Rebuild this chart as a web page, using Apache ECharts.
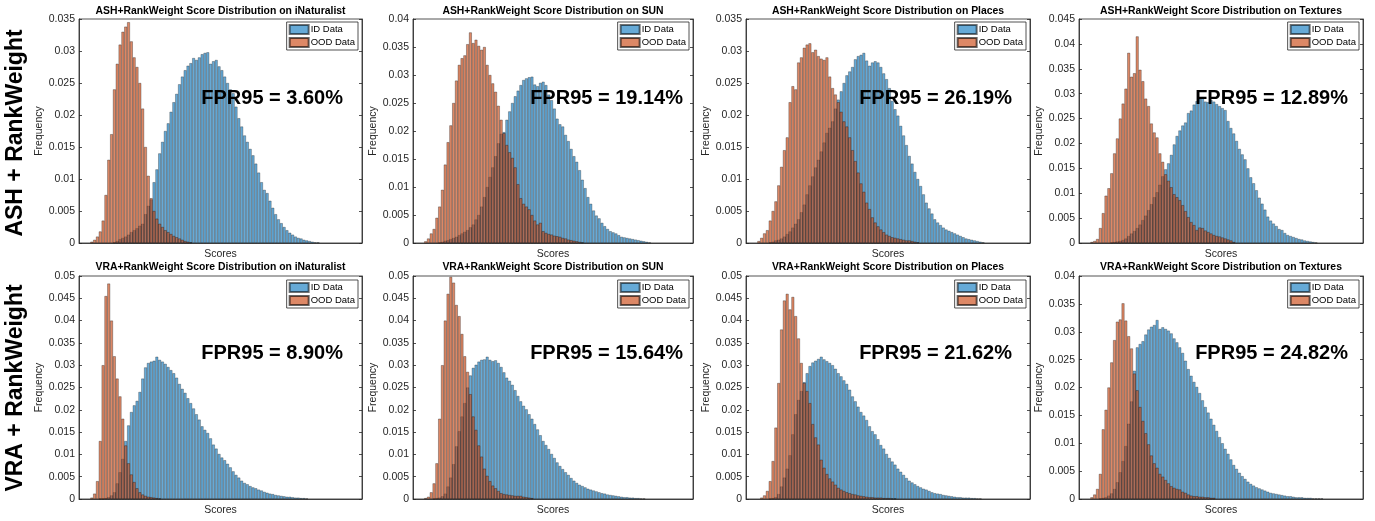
<!DOCTYPE html>
<html>
<head>
<meta charset="utf-8">
<script src="https://cdn.jsdelivr.net/npm/echarts@6/dist/echarts.min.js"></script>
<style>
html,body{margin:0;padding:0;background:#fff;}
#chart{width:1375px;height:521px;}
</style>
</head>
<body>
<div id="chart"></div>
<script>
// ---------------- DATA ----------------
const BIN_COUNT = 100;
const datasetNames = ['iNaturalist', 'SUN', 'Places', 'Textures'];
const methodNames = ['ASH', 'VRA'];
const rowLabels = ['ASH + RankWeight', 'VRA + RankWeight'];
const fprLabels = ['FPR95 = 3.60%', 'FPR95 = 19.14%', 'FPR95 = 26.19%', 'FPR95 = 12.89%',
                   'FPR95 = 8.90%', 'FPR95 = 15.64%', 'FPR95 = 21.62%', 'FPR95 = 24.82%'];
const yMaxes = [0.035, 0.04, 0.035, 0.045, 0.05, 0.05, 0.05, 0.04];
const seriesNames = ['ID Data', 'OOD Data'];

// ASH + RankWeight, iNaturalist
const ashInatIdStart = 12;
const ashInatId = [0.0001,0.0003,0.0006,0.0008,0.001,0.0013,0.0017,0.002,0.0023,0.0027,0.003,0.0045,0.0058,0.0068,
  0.0095,0.0115,0.014,0.0158,0.0175,0.0187,0.0205,0.022,0.0233,0.0248,0.026,0.027,0.0277,0.0281,0.0289,0.0286,0.029,
  0.0295,0.0297,0.0298,0.028,0.0284,0.0286,0.0276,0.027,0.026,0.025,0.024,0.0234,0.0213,0.0195,0.0182,0.0168,0.0158,
  0.0147,0.0137,0.0124,0.011,0.0095,0.0083,0.0078,0.0066,0.0055,0.0045,0.0037,0.0031,0.0025,0.002,0.0016,0.0013,0.001,
  0.0008,0.0007,0.0005,0.0004,0.0003,0.0002,0.0001,0.0001];
const ashInatOodStart = 4;
const ashInatOod = [0.0002,0.0005,0.001,0.0018,0.0035,0.0075,0.013,0.017,0.024,0.028,0.031,0.033,0.0338,0.0345,0.0315,
  0.029,0.0275,0.025,0.021,0.015,0.0105,0.007,0.005,0.0038,0.003,0.0025,0.002,0.0017,0.0014,0.0011,0.0009,0.0007,0.0005,
  0.0003,0.0002,0.0001];

// ASH + RankWeight, SUN
const ashSunIdStart = 9;
const ashSunId = [0.0001,0.0002,0.0004,0.0005,0.0007,0.0009,0.0011,0.0014,0.0017,0.002,0.0023,0.0028,0.0033,0.0042,0.005,
  0.0065,0.0082,0.01,0.0118,0.0135,0.0155,0.0178,0.0195,0.0198,0.022,0.0235,0.025,0.0262,0.0272,0.0282,0.0291,0.0294,
  0.0296,0.0297,0.0283,0.028,0.0286,0.0288,0.0282,0.0265,0.0255,0.024,0.0222,0.0212,0.0208,0.0193,0.0182,0.0168,0.0155,
  0.0145,0.013,0.0113,0.0098,0.0082,0.007,0.0058,0.0049,0.0044,0.0036,0.003,0.0025,0.0021,0.0019,0.0017,0.0014,0.0011,
  0.001,0.0009,0.0008,0.0007,0.0006,0.0005,0.0004,0.0003,0.0002,0.0001];
const ashSunOodStart = 4;
const ashSunOod = [0.0003,0.0008,0.0017,0.0025,0.0045,0.0065,0.0095,0.014,0.018,0.021,0.025,0.029,0.0318,0.033,0.0335,
  0.0355,0.0376,0.0357,0.0363,0.0352,0.0345,0.035,0.0318,0.03,0.0285,0.027,0.0245,0.022,0.0196,0.0175,0.0162,0.0152,
  0.0135,0.0105,0.008,0.007,0.0065,0.006,0.005,0.004,0.0033,0.0036,0.0021,0.0018,0.0016,0.0015,0.0013,0.0012,0.0011,
  0.0009,0.0008,0.0006,0.0005,0.0004,0.0003,0.0002,0.0001];

// ASH + RankWeight, Places
const ashPlacesIdStart = 8;
const ashPlacesId = [0.0001,0.0002,0.0004,0.0005,0.0007,0.001,0.0014,0.0018,0.0024,0.003,0.0037,0.0048,0.006,0.0076,0.009,
  0.0104,0.0118,0.013,0.0143,0.0157,0.0172,0.018,0.019,0.021,0.0224,0.0237,0.025,0.0262,0.0268,0.0275,0.0287,0.0292,
  0.0294,0.0297,0.0285,0.0277,0.0282,0.0284,0.0282,0.0275,0.0265,0.0256,0.0242,0.0222,0.0209,0.0199,0.0183,0.0168,0.0153,
  0.0136,0.0124,0.0111,0.01,0.0089,0.0076,0.0063,0.0054,0.0046,0.0037,0.0032,0.0028,0.0024,0.0021,0.0019,0.0017,0.0015,
  0.0013,0.0011,0.0009,0.0007,0.0006,0.0005,0.0004,0.0003,0.0002,0.0001];
const ashPlacesOodStart = 4;
const ashPlacesOod = [0.0003,0.0008,0.0015,0.002,0.0035,0.005,0.0065,0.009,0.0119,0.0145,0.0165,0.022,0.0245,0.024,0.0282,
  0.029,0.0305,0.031,0.0312,0.0298,0.0302,0.0292,0.0288,0.0286,0.029,0.026,0.0242,0.0232,0.022,0.0205,0.019,0.0182,
  0.0165,0.0145,0.0128,0.011,0.0093,0.008,0.0063,0.0053,0.004,0.0032,0.0026,0.0021,0.0017,0.0013,0.0011,0.0009,0.0008,
  0.0007,0.0006,0.0005,0.0004,0.0004,0.0003,0.0002,0.0001];

// ASH + RankWeight, Textures
const ashTexIdStart = 11;
const ashTexId = [0.0001,0.0002,0.0003,0.0004,0.0006,0.0009,0.0014,0.0019,0.0024,0.003,0.0037,0.0046,0.0055,0.0066,0.0078,
  0.0092,0.0102,0.0117,0.0134,0.0148,0.016,0.0177,0.0198,0.0215,0.0226,0.0236,0.0242,0.0261,0.0266,0.0278,0.0285,0.029,
  0.0293,0.0284,0.0283,0.0287,0.0284,0.0279,0.0275,0.0271,0.0267,0.0245,0.0231,0.022,0.0205,0.0189,0.0178,0.0168,0.015,
  0.0132,0.012,0.0106,0.0091,0.0079,0.0067,0.0053,0.0045,0.0039,0.0034,0.0028,0.0026,0.002,0.0016,0.0014,0.0012,0.001,
  0.0008,0.0007,0.0005,0.0004,0.0003,0.0002,0.0001];
const ashTexOodStart = 4;
const ashTexOod = [0.0002,0.0004,0.0008,0.003,0.006,0.0095,0.011,0.014,0.018,0.021,0.025,0.028,0.031,0.0382,0.0334,0.0341,
  0.0415,0.0348,0.0325,0.029,0.0275,0.024,0.0222,0.0212,0.018,0.0163,0.0138,0.0125,0.0112,0.0098,0.0092,0.0086,0.0076,
  0.0064,0.0052,0.0042,0.0036,0.0026,0.0031,0.003,0.0025,0.0022,0.0019,0.0016,0.0014,0.0013,0.0011,0.0009,0.0007,0.0005,
  0.0002];

// VRA + RankWeight, iNaturalist
const vraInatIdStart = 7;
const vraInatId = [0.0001,0.0001,0.0002,0.0004,0.0008,0.0015,0.0035,0.006,0.009,0.013,0.0165,0.0195,0.021,0.022,0.024,0.027,
  0.0295,0.0305,0.0308,0.031,0.0319,0.0312,0.0308,0.0303,0.0296,0.0289,0.0282,0.0272,0.0258,0.0247,0.0238,0.0226,0.0215,
  0.0203,0.019,0.0178,0.0163,0.0155,0.0148,0.0136,0.0122,0.0113,0.0101,0.0093,0.0087,0.0079,0.0071,0.0062,0.0054,0.0048,
  0.0041,0.0036,0.0033,0.0029,0.0026,0.0024,0.0021,0.0019,0.0016,0.0014,0.0012,0.0011,0.0009,0.0008,0.0007,0.0006,0.0005,
  0.0005,0.0004,0.0003,0.0003,0.0002,0.0002,0.0001];
const vraInatOodStart = 4;
const vraInatOod = [0.0003,0.0012,0.004,0.013,0.03,0.0455,0.0483,0.04,0.032,0.027,0.023,0.018,0.012,0.008,0.0055,0.0038,
  0.0024,0.0015,0.001,0.0007,0.0005,0.0004,0.0003,0.0002,0.0001];

// VRA + RankWeight, SUN
const vraSunIdStart = 7;
const vraSunId = [0.0001,0.0002,0.0003,0.0006,0.0012,0.0028,0.0048,0.0078,0.0118,0.0152,0.0185,0.0215,0.025,0.0277,0.0294,
  0.0301,0.0308,0.0312,0.0313,0.0319,0.0312,0.0309,0.0311,0.0305,0.0296,0.0284,0.0272,0.0265,0.0256,0.0244,0.0231,0.0219,
  0.0209,0.0201,0.019,0.018,0.0168,0.0156,0.0143,0.013,0.0121,0.0112,0.0101,0.0092,0.0082,0.0074,0.0067,0.006,0.0054,
  0.0047,0.0041,0.0036,0.0032,0.0029,0.0026,0.0023,0.0021,0.0019,0.0017,0.0015,0.0013,0.0012,0.001,0.0009,0.0008,0.0007,
  0.0006,0.0005,0.0004,0.0004,0.0003,0.0003,0.0002,0.0002,0.0001,0.0001];
const vraSunOodStart = 4;
const vraSunOod = [0.0002,0.0005,0.0015,0.0035,0.008,0.018,0.03,0.04,0.046,0.0498,0.0485,0.0435,0.041,0.037,0.032,0.0285,
  0.0235,0.0185,0.0155,0.012,0.0095,0.0068,0.0052,0.004,0.003,0.0024,0.0018,0.0013,0.0011,0.001,0.0009,0.0008,0.0007,
  0.0007,0.0007,0.0005,0.0004,0.0003,0.0002];

// VRA + RankWeight, Places
const vraPlacesIdStart = 8;
const vraPlacesId = [0.0001,0.0002,0.0004,0.0011,0.0028,0.0048,0.0068,0.0098,0.0145,0.019,0.0222,0.0242,0.0262,0.0282,0.0298,
  0.0306,0.031,0.0314,0.0319,0.0313,0.0309,0.0305,0.03,0.0292,0.0282,0.0275,0.0266,0.0258,0.0245,0.023,0.0219,0.0207,
  0.0195,0.0187,0.0177,0.0163,0.0152,0.0145,0.0134,0.0121,0.0113,0.0101,0.0092,0.0084,0.0077,0.0068,0.0061,0.0054,0.0047,
  0.0041,0.0037,0.0033,0.0029,0.0026,0.0023,0.0021,0.0018,0.0015,0.0013,0.0012,0.0011,0.0009,0.0008,0.0007,0.0006,0.0005,
  0.0004,0.0004,0.0003,0.0003,0.0003,0.0002,0.0002,0.0001,0.0001];
const vraPlacesOodStart = 5;
const vraPlacesOod = [0.0003,0.0008,0.0018,0.004,0.0085,0.016,0.026,0.038,0.0445,0.046,0.0425,0.0453,0.041,0.036,0.0305,
  0.026,0.0242,0.0215,0.0168,0.0138,0.0122,0.0088,0.007,0.0056,0.0046,0.0039,0.0032,0.0025,0.0021,0.0018,0.0015,0.0013,
  0.0011,0.001,0.0008,0.0007,0.0006,0.0005,0.0004,0.0004,0.0003,0.0003,0.0003,0.0002,0.0002,0.0002,0.0001,0.0001];

// VRA + RankWeight, Textures
const vraTexIdStart = 7;
const vraTexId = [0.0001,0.0002,0.0003,0.0006,0.001,0.0018,0.003,0.0048,0.0068,0.0095,0.0135,0.0175,0.023,0.0272,0.0278,
  0.0283,0.0295,0.0304,0.0309,0.0312,0.0321,0.0305,0.0308,0.0305,0.0302,0.0297,0.0288,0.0281,0.0272,0.0262,0.0248,0.0233,
  0.0221,0.021,0.0201,0.019,0.0177,0.0165,0.0155,0.0144,0.0133,0.0122,0.0111,0.01,0.009,0.0081,0.0071,0.0061,0.0054,
  0.0047,0.0041,0.0036,0.0031,0.0027,0.0024,0.0021,0.0019,0.0017,0.0015,0.0013,0.0011,0.001,0.0009,0.0008,0.0007,0.0006,
  0.0005,0.0005,0.0004,0.0003,0.0003,0.0003,0.0002,0.0002,0.0002,0.0001,0.0001,0.0001,0.0001];
const vraTexOodStart = 4;
const vraTexOod = [0.0003,0.0008,0.0018,0.0045,0.0125,0.016,0.02,0.0245,0.0285,0.0318,0.0322,0.0351,0.032,0.0292,0.027,
  0.0225,0.0195,0.0165,0.014,0.0118,0.0098,0.0078,0.0064,0.0056,0.0045,0.004,0.0034,0.0028,0.0023,0.002,0.0018,0.0017,
  0.0013,0.0011,0.0008,0.0006,0.0005,0.0005,0.0004,0.0004,0.0003,0.0003,0.0002,0.0002];

const panelData = [
  [ashInatIdStart, ashInatId, ashInatOodStart, ashInatOod],
  [ashSunIdStart, ashSunId, ashSunOodStart, ashSunOod],
  [ashPlacesIdStart, ashPlacesId, ashPlacesOodStart, ashPlacesOod],
  [ashTexIdStart, ashTexId, ashTexOodStart, ashTexOod],
  [vraInatIdStart, vraInatId, vraInatOodStart, vraInatOod],
  [vraSunIdStart, vraSunId, vraSunOodStart, vraSunOod],
  [vraPlacesIdStart, vraPlacesId, vraPlacesOodStart, vraPlacesOod],
  [vraTexIdStart, vraTexId, vraTexOodStart, vraTexOod]
];

// ---------------- LAYOUT / STYLE ----------------
const W = 1375;
const FONT = '"Liberation Sans", Arial, Helvetica, sans-serif';
const AX = '#262626';
const colLefts = [79, 413, 746, 1079];
const colWidths = [283, 280, 284, 284];
const rowTops = [19, 276];
const rowHeights = [224, 223];
const fprRight = [343, 683, 1012, 1348];
const fprY = [98, 353];
const titleTop = [6, 262];
const legendTop = [22, 280];
const idColor = 'rgba(0,114,189,0.6)';
const oodColor = 'rgba(205,80,30,0.68)';

function binArray(start, vals) {
  const out = new Array(BIN_COUNT).fill(null);
  vals.forEach((v, i) => { out[start + i] = v; });
  return out;
}
const cats = Array.from({length: BIN_COUNT}, (_, i) => String(i));

const grids = [], xAxes = [], yAxes = [], series = [], titles = [], legends = [], graphics = [];
for (let p = 0; p < 8; p++) {
  const r = Math.floor(p / 4), c = p % 4;
  const left = colLefts[c], width = colWidths[c], top = rowTops[r], height = rowHeights[r];
  grids.push({left: left, top: top, width: width, height: height, show: true,
    borderColor: AX, borderWidth: 0.8, backgroundColor: '#fff', containLabel: false});
  xAxes.push({type: 'category', gridIndex: p, data: cats, boundaryGap: true,
    axisLabel: {show: false}, axisTick: {show: false},
    axisLine: {show: true, lineStyle: {color: AX, width: 0.8}},
    name: 'Scores', nameLocation: 'middle', nameGap: 6,
    nameTextStyle: {fontFamily: FONT, fontSize: 10.5, color: AX}});
  const yCommon = {type: 'value', gridIndex: p, min: 0, max: yMaxes[p], interval: 0.005,
    splitLine: {show: false}};
  yAxes.push(Object.assign({}, yCommon, {position: 'left',
    axisLine: {show: true, lineStyle: {color: AX, width: 0.8}},
    axisTick: {show: true, inside: true, length: 3, lineStyle: {color: AX, width: 0.8}},
    axisLabel: {fontFamily: FONT, fontSize: 10.5, color: AX, margin: 4},
    name: 'Frequency', nameLocation: 'middle', nameGap: 33,
    nameTextStyle: {fontFamily: FONT, fontSize: 10.5, color: AX}}));
  yAxes.push(Object.assign({}, yCommon, {position: 'right',
    axisLine: {show: true, lineStyle: {color: AX, width: 0.8}},
    axisTick: {show: true, inside: true, length: 3, lineStyle: {color: AX, width: 0.8}},
    axisLabel: {show: false}}));
  const d = panelData[p];
  const base = {type: 'bar', xAxisIndex: p, yAxisIndex: 2 * p, barGap: '-100%', barCategoryGap: '0%',
    animation: false, silent: true};
  series.push(Object.assign({}, base, {name: seriesNames[0], data: binArray(d[0], d[1]),
    itemStyle: {color: idColor, borderColor: 'rgba(0,0,0,0.55)', borderWidth: 0.5}}));
  series.push(Object.assign({}, base, {name: seriesNames[1], data: binArray(d[2], d[3]),
    itemStyle: {color: oodColor, borderColor: 'rgba(0,0,0,0.6)', borderWidth: 0.5}}));
  titles.push({text: methodNames[r] + '+RankWeight Score Distribution on ' + datasetNames[c],
    left: left + width / 2, textAlign: 'center', top: titleTop[r], padding: 0,
    textStyle: {fontFamily: FONT, fontSize: 10.4, fontWeight: 'bold', color: '#000'}});
  legends.push({data: seriesNames, orient: 'vertical', right: W - (left + width - 4), top: legendTop[r],
    icon: 'rect', itemWidth: 19, itemHeight: 9, itemGap: 2, padding: [2, 3, 2, 2],
    borderColor: AX, borderWidth: 0.8, backgroundColor: '#fff', selectedMode: false,
    textStyle: {fontFamily: FONT, fontSize: 9.5, color: '#000', padding: [0, 0, 0, -3]}});
  graphics.push({type: 'text', x: fprRight[c], y: fprY[r], z: 100,
    style: {text: fprLabels[p], x: 0, y: 0, textAlign: 'right', textVerticalAlign: 'middle',
      font: 'bold 20px ' + FONT, fill: '#000'}});
}
for (let r = 0; r < 2; r++) {
  graphics.push({type: 'text', x: 16, y: r === 0 ? 133 : 388, rotation: Math.PI / 2, z: 100,
    style: {text: rowLabels[r], x: 0, y: 0, textAlign: 'center', textVerticalAlign: 'middle',
      font: 'bold 23px ' + FONT, fill: '#000'}});
}

const chart = echarts.init(document.getElementById('chart'), null, {renderer: 'canvas'});
chart.setOption({
  animation: false,
  backgroundColor: '#fff',
  title: titles,
  legend: legends,
  grid: grids,
  xAxis: xAxes,
  yAxis: yAxes,
  series: series,
  graphic: graphics
});
</script>
</body>
</html>
